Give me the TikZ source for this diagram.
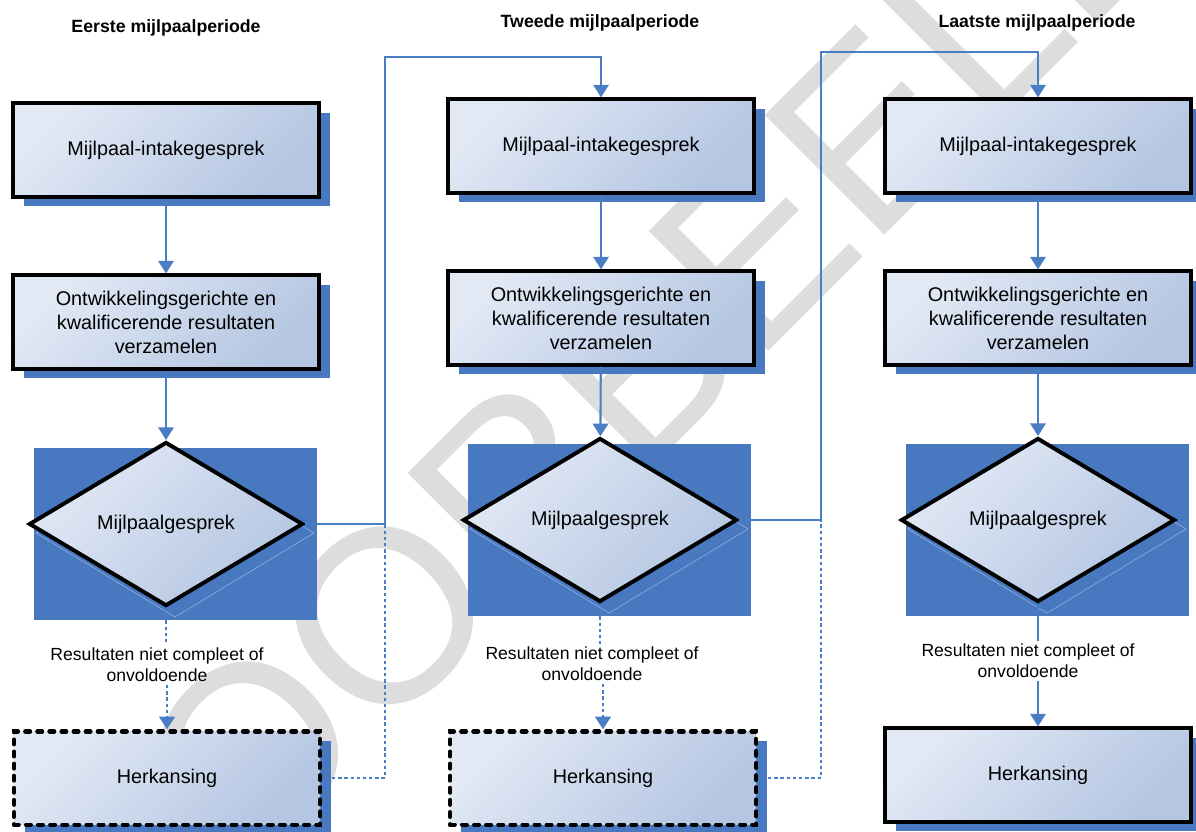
\documentclass[tikz,border=0pt]{standalone}
\usepackage{fontspec}
\setmainfont{Liberation Sans}
\usetikzlibrary{arrows.meta}
\usetikzlibrary{shapes.geometric, shadows, backgrounds}

\definecolor{shadowblue}{RGB}{72,121,192}
\definecolor{lineblue}{RGB}{74,126,196}
\definecolor{gradlight}{RGB}{226,233,245}
\definecolor{graddark}{RGB}{180,198,226}
\definecolor{ghostblue}{RGB}{150,178,222}
\definecolor{wmgray}{RGB}{221,221,221}

\tikzset{
  stepbox/.style={draw=black, line width=2.8pt, minimum width=7.65cm, minimum height=2.33cm,
    align=center, inner sep=2pt, font=\fontsize{14.1}{17}\selectfont,
    top color=gradlight, bottom color=graddark, shading angle=45,
    drop shadow={shadow xshift=7.5pt, shadow yshift=-7pt, fill=shadowblue, opacity=1}},
  retakebox/.style={stepbox, line width=3pt, line cap=round, dash pattern=on 3.4pt off 5.2pt},
  talk/.style={diamond, aspect=1.67, draw=black, line width=2.8pt, minimum width=6.85cm,
    minimum height=4.1cm, inner sep=0pt, font=\fontsize{14.1}{17}\selectfont,
    top color=gradlight, bottom color=graddark, shading angle=45},
  period/.style={font=\bfseries\fontsize{12.6}{15}\selectfont},
  note/.style={align=center, inner sep=2pt, font=\fontsize{12.5}{15}\selectfont},
  flow/.style={draw=lineblue, line width=1.5pt, -{Triangle[width=11pt,length=9pt]}},
  redo/.style={draw=lineblue, line width=2pt, dash pattern=on 2.4pt off 2pt},
  wmark/.style={text=wmgray, inner sep=0pt, rotate=45, font=\fontsize{175}{175}\selectfont},
}

\begin{document}
\begin{tikzpicture}[x=0.025cm, y=-0.025cm]
\useasboundingbox (0,0) rectangle (1196,831);

\node[period] (t1) at (166,28) {Eerste mijlpaalperiode};
\node[period] (t2) at (600,23) {Tweede mijlpaalperiode};
\node[period] (t3) at (1037,23) {Laatste mijlpaalperiode};

\node[stepbox] (b11) at (166,150) {Mijlpaal-intakegesprek};
\node[stepbox] (b12) at (166,322) {Ontwikkelingsgerichte en\\kwalificerende resultaten\\verzamelen};
\node[talk] (d1) at (166,524) {Mijlpaalgesprek};
\node[note] (l1) at (157,665) {Resultaten niet compleet of\\onvoldoende};
\node[retakebox] (r1) at (167,778) {Herkansing};

\node[stepbox] (b21) at (601,146) {Mijlpaal-intakegesprek};
\node[stepbox] (b22) at (601,318) {Ontwikkelingsgerichte en\\kwalificerende resultaten\\verzamelen};
\node[talk] (d2) at (600,520) {Mijlpaalgesprek};
\node[note] (l2) at (592,664) {Resultaten niet compleet of\\onvoldoende};
\node[retakebox] (r2) at (603,778) {Herkansing};

\node[stepbox] (b31) at (1038,146) {Mijlpaal-intakegesprek};
\node[stepbox] (b32) at (1038,318) {Ontwikkelingsgerichte en\\kwalificerende resultaten\\verzamelen};
\node[talk] (d3) at (1038,520) {Mijlpaalgesprek};
\node[note] (l3) at (1028,661) {Resultaten niet compleet of\\onvoldoende};
\node[stepbox] (r3) at (1038,775) {Herkansing};

\coordinate (k1) at (385,57);
\coordinate (k2) at (821,52);

\draw[flow] (b11) -- (b12);
\draw[flow] (b12) -- (d1);
\draw[redo] (d1.south) -- (d1.south |- l1.north);
\draw[redo, -{Triangle[width=11pt,length=9pt]}] (r1.north |- l1.south) -- (r1.north);
\draw[flow] (d1.east) -| (k1) -| (b21.north);
\draw[redo, shorten <=7pt] (r1.east) -| (d1.east -| k1);

\draw[flow] (b21) -- (b22);
\draw[flow] (b22) -- (d2);
\draw[redo] (d2.south) -- (d2.south |- l2.north);
\draw[redo, -{Triangle[width=11pt,length=9pt]}] (r2.north |- l2.south) -- (r2.north);
\draw[flow] (d2.east) -| (k2) -| (b31.north);
\draw[redo, shorten <=7pt] (r2.east) -| (d2.east -| k2);

\draw[flow] (b31) -- (b32);
\draw[flow] (b32) -- (d3);
\draw[draw=lineblue, line width=1.5pt] (d3.south) -- (d3.south |- l3.north);
\draw[flow] (r3.north |- l3.south) -- (r3.north);

\begin{scope}[on background layer]
\node[wmark] (wm) at (608,393) {VOORBEELD};
\foreach \d in {d1,d2,d3} {
  \path (\d.west |- \d.north) coordinate (\d nw) (\d.east |- \d.south) coordinate (\d se);
  \fill[shadowblue] ([shift={(7,8)}]\d nw) rectangle ([shift={(12,12)}]\d se);
  \draw[ghostblue, line width=0.4pt] ([shift={(9,9)}]\d.north) -- ([shift={(9,9)}]\d.east)
    -- ([shift={(9,9)}]\d.south) -- ([shift={(9,9)}]\d.west) -- cycle;
}
\end{scope}
\end{tikzpicture}
\end{document}
